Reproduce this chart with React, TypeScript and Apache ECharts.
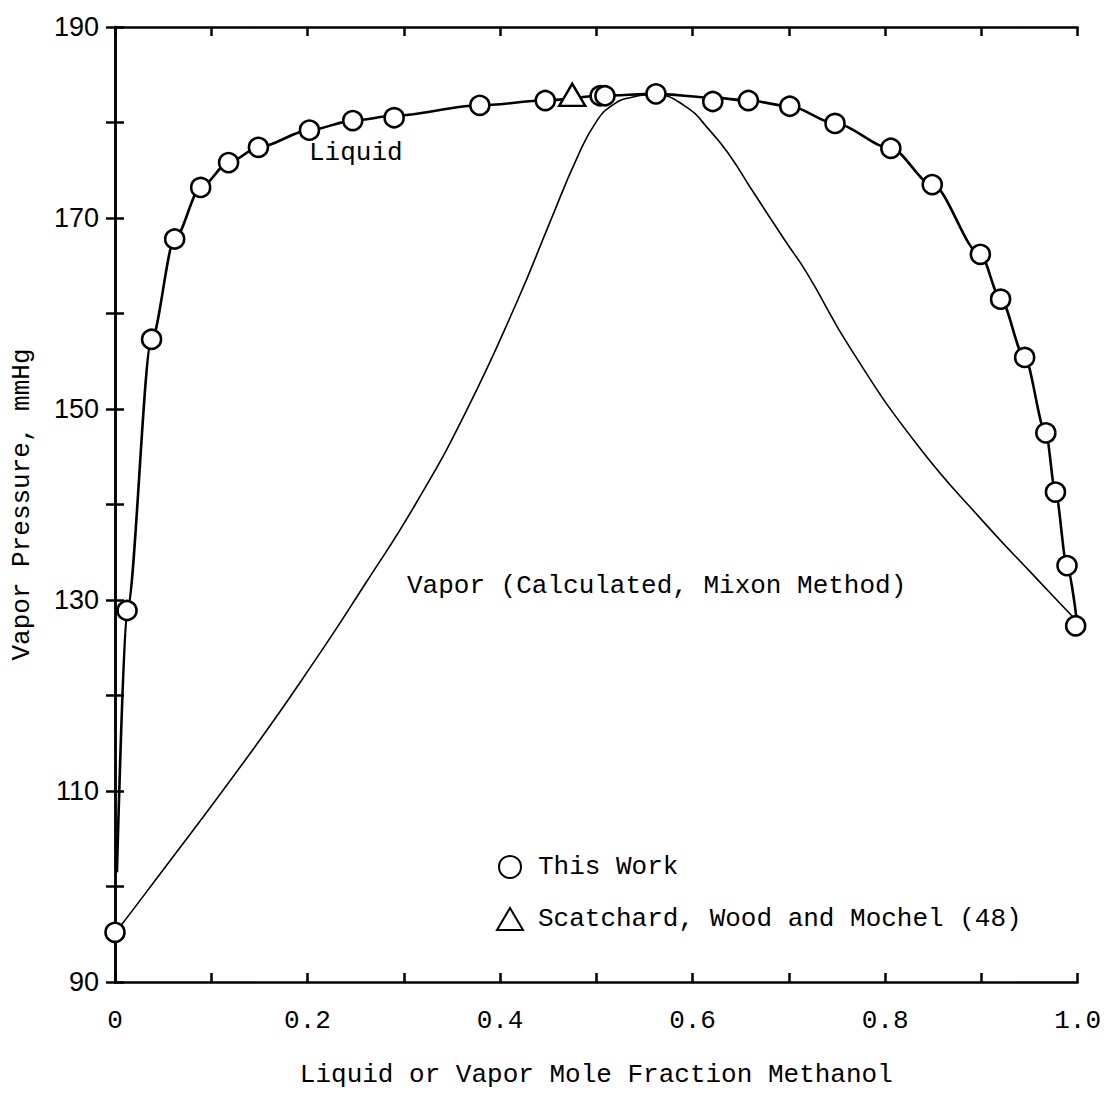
import React, { useEffect, useRef } from "react";
import * as echarts from "echarts";

// "This Work" measured points: [liquid mole fraction methanol, vapor pressure mmHg]
const thisWork: [number, number][] = [
  [0.0, 95.2], [0.0125, 128.9], [0.038, 157.3], [0.062, 167.8], [0.089, 173.2],
  [0.118, 175.8], [0.149, 177.4], [0.202, 179.2], [0.247, 180.2], [0.29, 180.5],
  [0.379, 181.8], [0.447, 182.3], [0.504, 182.8], [0.509, 182.8], [0.562, 183.0],
  [0.621, 182.2], [0.658, 182.3], [0.701, 181.7], [0.748, 179.9], [0.806, 177.3],
  [0.849, 173.5], [0.899, 166.2], [0.92, 161.5], [0.945, 155.4], [0.967, 147.5],
  [0.977, 141.3], [0.989, 133.6], [0.998, 127.3],
];

// Scatchard, Wood and Mochel (48)
const scatchard: [number, number][] = [[0.475, 182.9]];

// Liquid curve (smooth line through the data)
const liquidCurve: [number, number][] = [
  [0.002, 101.5], [0.0125, 128.9], [0.038, 157.3], [0.062, 167.8], [0.089, 173.2],
  [0.118, 175.8], [0.149, 177.4], [0.202, 179.2], [0.247, 180.2], [0.29, 180.7],
  [0.379, 181.8], [0.447, 182.3], [0.506, 182.8], [0.562, 183.0], [0.621, 182.6],
  [0.658, 182.3], [0.701, 181.7], [0.748, 179.9], [0.806, 177.3], [0.849, 173.5],
  [0.899, 166.2], [0.92, 161.5], [0.945, 155.4], [0.967, 147.5], [0.977, 141.3],
  [0.989, 133.6], [0.999, 128.0],
];

// Vapor curve (calculated, Mixon method)
const vaporCurve: [number, number][] = [
  [0.003, 95.5], [0.031, 99.2], [0.139, 113.75], [0.208, 123.7],
  [0.26, 131.7], [0.312, 140.0], [0.364, 149.6], [0.4175, 161.2],
  [0.452, 169.6], [0.48, 176.3], [0.5007, 180.2], [0.518, 181.9], [0.535, 182.6],
  [0.56, 182.9], [0.591, 181.8], [0.6185, 179.1], [0.639, 176.5], [0.66, 173.2],
  [0.695, 167.8], [0.719, 164.2], [0.764, 156.35], [0.833, 146.3], [0.903, 138.1],
  [0.955, 132.5], [0.993, 128.45], [1.0, 127.7],
];

const X_TICK_LABELS = ["0", "0.2", "0.4", "0.6", "0.8", "1.0"];
const Y_TICK_LABELS = ["90", "110", "130", "150", "170", "190"];

const MONO = "'Liberation Mono', 'DejaVu Sans Mono', monospace";
const SANS = "'Liberation Sans', Arial, sans-serif";

export default function App() {
  const ref = useRef<HTMLDivElement>(null);
  useEffect(() => {
    if (!ref.current) return;
    const chart = echarts.init(ref.current, null, { renderer: "svg" });
    const axisLine = { show: true, lineStyle: { color: "#000", width: 2.5 } };
    const axisTick = { show: true, inside: true, length: 9, lineStyle: { color: "#000", width: 2.5 } };
    chart.setOption({
      animation: false,
      backgroundColor: "#fff",
      grid: { left: 115, top: 27, width: 963, height: 961 },
      legend: {
        orient: "vertical",
        left: 491,
        top: 849,
        itemWidth: 26,
        itemHeight: 22,
        itemGap: 26,
        data: ["This Work", "Scatchard, Wood and Mochel (48)"],
        textStyle: { fontFamily: MONO, fontSize: 26, color: "#000", padding: [0, 0, 0, 10] },
      },
      xAxis: [
        {
          type: "value",
          min: 0,
          max: 1,
          interval: 0.1,
          position: "bottom",
          name: "Liquid or Vapor Mole Fraction Methanol",
          nameLocation: "middle",
          nameGap: 80,
          nameTextStyle: { fontFamily: MONO, fontSize: 26, color: "#000" },
          axisLine,
          axisTick,
          splitLine: { show: false },
          axisLabel: {
            margin: 26,
            fontFamily: MONO,
            fontSize: 26,
            color: "#000",
            formatter: (v: number) => {
              const k = Math.round(v * 10);
              return k % 2 === 0 ? X_TICK_LABELS[k / 2] : "";
            },
          },
        },
        {
          type: "value",
          min: 0,
          max: 1,
          interval: 0.1,
          position: "top",
          axisLine,
          axisTick,
          splitLine: { show: false },
          axisLabel: { show: false },
        },
      ],
      yAxis: [
        {
          type: "value",
          min: 90,
          max: 190,
          interval: 10,
          position: "left",
          name: "Vapor Pressure, mmHg",
          nameLocation: "middle",
          nameGap: 80,
          nameRotate: 90,
          nameTextStyle: { fontFamily: MONO, fontSize: 26, color: "#000" },
          axisLine,
          axisTick,
          splitLine: { show: false },
          axisLabel: {
            margin: 16,
            fontFamily: SANS,
            fontSize: 27,
            color: "#000",
            formatter: (v: number) => {
              const k = Math.round((v - 90) / 10);
              return k % 2 === 0 ? Y_TICK_LABELS[k / 2] : "";
            },
          },
        },
        {
          type: "value",
          min: 90,
          max: 190,
          interval: 10,
          position: "right",
          axisLine,
          axisTick,
          splitLine: { show: false },
          axisLabel: { show: false },
        },
      ],
      series: [
        {
          name: "Vapor",
          type: "line",
          data: vaporCurve,
          smooth: 0.5,
          symbol: "none",
          lineStyle: { color: "#000", width: 1.6 },
          z: 2,
        },
        {
          name: "Liquid",
          type: "line",
          data: liquidCurve,
          smooth: 0.3,
          smoothMonotone: "x",
          symbol: "none",
          lineStyle: { color: "#000", width: 2.6 },
          z: 2,
        },
        {
          name: "This Work",
          type: "scatter",
          data: thisWork,
          symbol: "circle",
          symbolSize: 19,
          itemStyle: { color: "#fff", opacity: 1, borderColor: "#000", borderWidth: 2.6 },
          emphasis: { disabled: true },
          z: 5,
        },
        {
          name: "Scatchard, Wood and Mochel (48)",
          type: "scatter",
          data: scatchard,
          symbol: "triangle",
          symbolSize: [26, 22],
          itemStyle: { color: "#fff", opacity: 1, borderColor: "#000", borderWidth: 2.4 },
          emphasis: { disabled: true },
          z: 5,
        },
      ],
      graphic: [
        {
          type: "text",
          left: 309,
          top: 140,
          style: { text: "Liquid", font: `26px ${MONO}`, fill: "#000" },
        },
        {
          type: "text",
          left: 407,
          top: 573,
          style: { text: "Vapor (Calculated, Mixon Method)", font: `26px ${MONO}`, fill: "#000" },
        },
      ],
    });
    return () => chart.dispose();
  }, []);
  return (
    <div
      ref={ref}
      style={{ position: "absolute", left: 0, top: 0, width: 1104, height: 1093 }}
    />
  );
}
